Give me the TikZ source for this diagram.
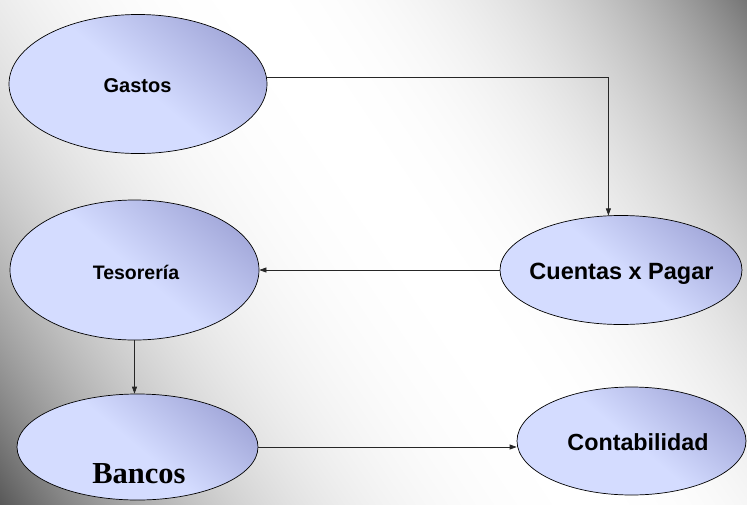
\documentclass[tikz,border=0pt]{standalone}
\usepackage{fontspec}
\setmainfont{Liberation Sans}
\newfontfamily\serifbold{Liberation Serif}
\usetikzlibrary{shapes.geometric,arrows.meta}
\definecolor{elllight}{HTML}{D4DCFF}
\definecolor{elldark}{HTML}{989DD2}
\pgfdeclarehorizontalshading{ellsh}{100bp}{color(0bp)=(elllight); color(50bp)=(elllight); color(82bp)=(elldark); color(100bp)=(elldark)}
\pgfdeclarefunctionalshading{bgfun}{\pgfpoint{0bp}{0bp}}{\pgfpoint{747bp}{504bp}}{}{
  252 sub 0.559 mul exch 373.5 sub 0.829 mul add 450.6 div
  dup 0.05 mul exch
  abs dup dup mul
  dup 0.25 mul
  3 1 roll
  mul 0.35 mul
  add
  sub
  0.9975 add
  dup dup
}
\tikzset{
  ell/.style={ellipse, draw=black, line width=0.7pt, shading=ellsh, shading angle=50, inner sep=0pt},
  lbl/.style={anchor=base, inner sep=0pt, font=\bfseries},
  arr/.style={draw=black!85, line width=0.7pt, -{Triangle[length=7pt,width=5pt]}}
}
\begin{document}
\begin{tikzpicture}[x=1pt,y=-1pt]
\useasboundingbox (0,0) rectangle (747,504);
\node[inner sep=0pt, outer sep=0pt, anchor=south west] (bg) at (0,504) {\pgfuseshading{bgfun}};
% ellipses
\node[ell, minimum width=258pt, minimum height=139pt] (gastos) at (138,84) {};
\node[ell, minimum width=249pt, minimum height=140pt] (tesoreria) at (134.5,270) {};
\node[ell, minimum width=242pt, minimum height=109pt] (cuentas) at (621,270) {};
\node[ell, minimum width=241pt, minimum height=106pt] (bancos) at (137.5,447) {};
\node[ell, minimum width=229pt, minimum height=108pt] (conta) at (631.5,441) {};
% labels
\node[lbl, font=\bfseries\fontsize{20}{24}\selectfont] (tgastos) at (137.5,92) {Gastos};
\node[lbl, font=\bfseries\fontsize{19.5}{24}\selectfont] (ttes) at (136,279.3) {Tesorería};
\node[lbl, font=\bfseries\fontsize{23.5}{28}\selectfont] (tcue) at (621.5,279) {Cuentas x Pagar};
\node[lbl, font=\bfseries\fontsize{23.3}{28}\selectfont] (tcon) at (638,450.7) {Contabilidad};
\node[lbl, font=\serifbold\bfseries\fontsize{30.5}{36}\selectfont] (tban) at (139,483) {Bancos};
% connectors
\draw[arr] (gastos.3.5) -| (cuentas.103.5);
\draw[arr] (cuentas.west) -- (tesoreria.east);
\draw[arr] (tesoreria.south) -- (tesoreria.south |- bancos.north);
\draw[arr] (bancos.east) -- (bancos.east -| conta.west);
\end{tikzpicture}
\end{document}
